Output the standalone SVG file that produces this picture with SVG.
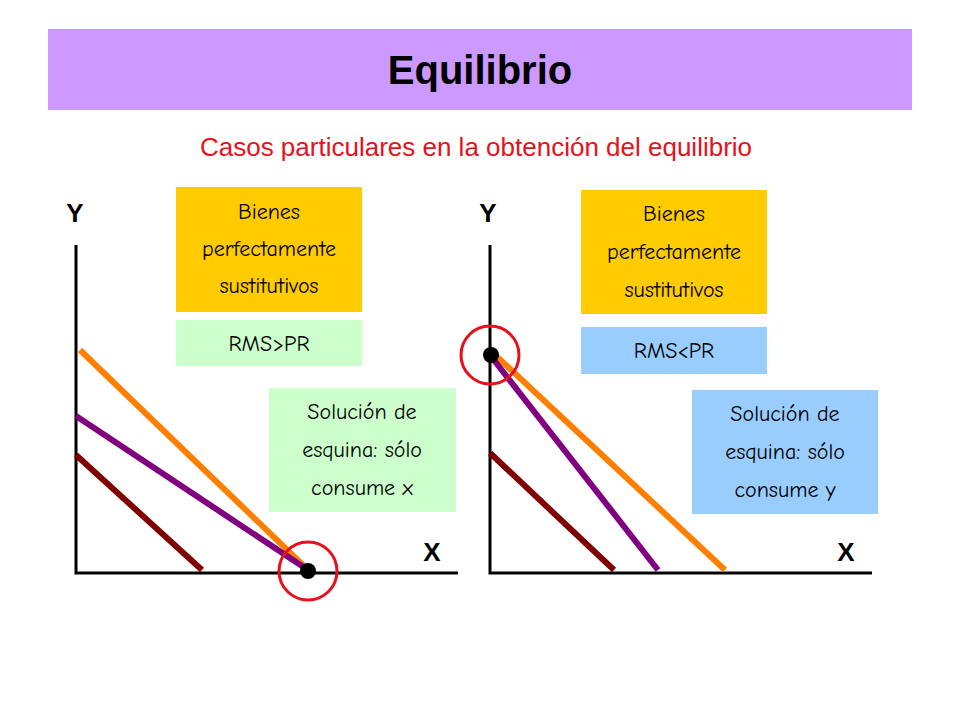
<svg xmlns="http://www.w3.org/2000/svg" width="960" height="720" viewBox="0 0 960 720">
<style>
.t{font-family:"Comic Neue","Liberation Sans",sans-serif;font-size:22px;text-anchor:middle;fill:#000}
.ax{stroke:#000;stroke-width:3;fill:none}
.ln{stroke-width:6;fill:none}
.lab{font-family:"Liberation Sans",sans-serif;font-size:26px;font-weight:bold;text-anchor:middle}
</style>
<rect width="960" height="720" fill="#fff"/>
<g id="title"><rect x="48" y="29" width="864" height="81" fill="#CC99FF"/>
<text x="480" y="84" font-family="Liberation Sans,sans-serif" font-size="40" font-weight="bold" text-anchor="middle">Equilibrio</text></g>
<text x="476" y="156" font-family="Liberation Sans,sans-serif" font-size="26" fill="#E8101A" text-anchor="middle">Casos particulares en la obtención del equilibrio</text>
<g id="connectors">
<path class="ax" d="M76 245V573H458"/>
<path class="ax" d="M490 245V573H872"/>
<line class="ln" x1="80" y1="350" x2="308" y2="570" stroke="#FF7F00"/>
<line class="ln" x1="76" y1="416" x2="308" y2="570" stroke="#800080"/>
<line class="ln" x1="76" y1="455" x2="202" y2="570" stroke="#800000"/>
<line class="ln" x1="492" y1="352" x2="725" y2="570" stroke="#FF7F00"/>
<line class="ln" x1="490" y1="355" x2="658" y2="570" stroke="#800080"/>
<line class="ln" x1="490" y1="453" x2="614" y2="570" stroke="#800000"/>
</g>
<text class="lab" x="75" y="222">Y</text><text class="lab" x="432" y="561">X</text>
<text class="lab" x="488" y="222">Y</text><text class="lab" x="846" y="561">X</text>
<g id="eqL"><circle cx="308" cy="571" r="8" fill="#000"/><circle cx="308" cy="571" r="29" fill="none" stroke="#E8101A" stroke-width="3"/></g>
<g id="eqR"><circle cx="491" cy="355" r="8" fill="#000"/><circle cx="490" cy="355" r="29" fill="none" stroke="#E8101A" stroke-width="3"/></g>
<g id="bienesL"><rect x="176" y="187" width="186" height="125" fill="#FFCC00"/>
<text class="t" x="269" y="219">Bienes</text><text class="t" x="269" y="256">perfectamente</text><text class="t" x="269" y="293">sustitutivos</text></g>
<g id="rmsL"><rect x="176" y="320" width="186" height="46" fill="#CCFFCC"/><text class="t" x="269" y="351">RMS&gt;PR</text></g>
<g id="solL"><rect x="269" y="388" width="187" height="124" fill="#CCFFCC"/>
<text class="t" x="362" y="419">Solución de</text><text class="t" x="362" y="457">esquina: sólo</text><text class="t" x="362" y="495">consume x</text></g>
<g id="bienesR"><rect x="581" y="190" width="186" height="124" fill="#FFCC00"/>
<text class="t" x="674" y="221">Bienes</text><text class="t" x="674" y="259">perfectamente</text><text class="t" x="674" y="297">sustitutivos</text></g>
<g id="rmsR"><rect x="581" y="327" width="186" height="47" fill="#99CCFF"/><text class="t" x="674" y="358">RMS&lt;PR</text></g>
<g id="solR"><rect x="692" y="390" width="186" height="124" fill="#99CCFF"/>
<text class="t" x="785" y="421">Solución de</text><text class="t" x="785" y="459">esquina: sólo</text><text class="t" x="785" y="497">consume y</text></g>
</svg>
